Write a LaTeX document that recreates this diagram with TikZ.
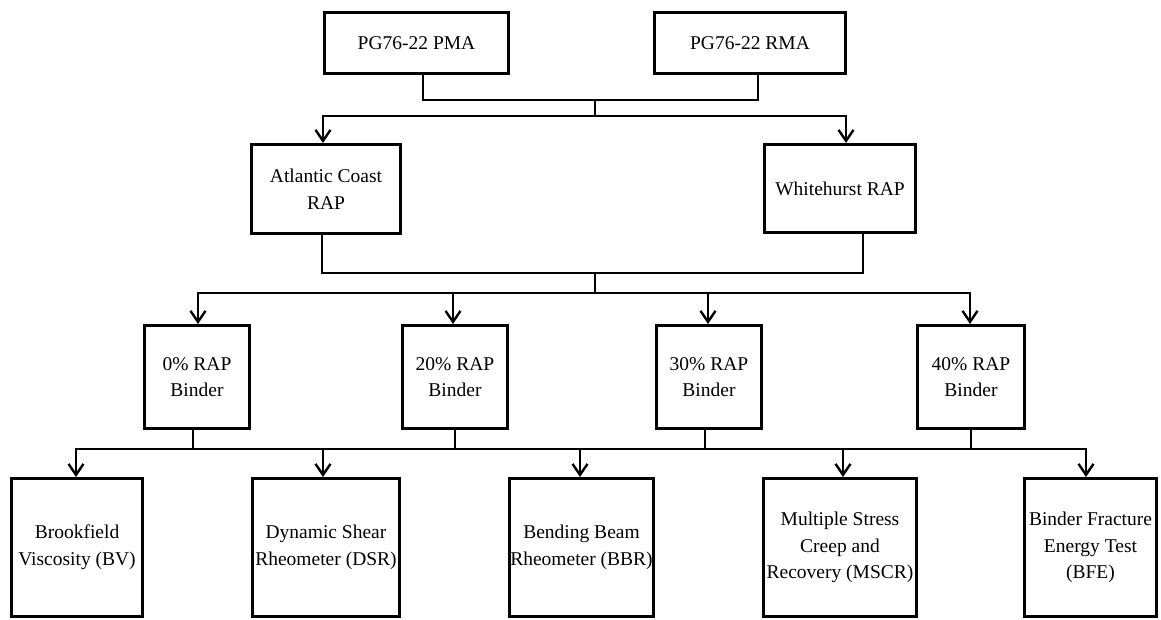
\documentclass[tikz,border=0pt]{standalone}
\usepackage{fontspec}
\setmainfont{LiberationSerif}[Extension=.ttf, UprightFont=*-Regular, BoldFont=*-Bold]
\usetikzlibrary{arrows.meta}
\begin{document}
\begin{tikzpicture}[x=1pt,y=-1pt,
  box/.style={draw, line width=3pt, align=center, inner sep=0pt,
    font=\fontsize{19.5}{26.7}\selectfont},
  conn/.style={line width=2pt},
  arr/.style={conn, -{Straight Barb[length=11pt,width=15pt,line width=2.4pt]}}]
\useasboundingbox[fill=white] (0,0) rectangle (1161,619);
% top row
\node[box, minimum width=184pt, minimum height=61pt] (pma) at (416.5,43) {PG76-22 PMA};
\node[box, minimum width=191pt, minimum height=61pt] (rma) at (750,43) {PG76-22 RMA};
% second row
\node[box, minimum width=149pt, minimum height=89pt] (atl) at (326,189) {Atlantic Coast\\RAP};
\node[box, minimum width=151pt, minimum height=88pt] (wh) at (840,188.5) {Whitehurst RAP};
% third row
\node[box, minimum width=105pt, minimum height=103pt] (r0) at (197,377) {0\% RAP\\Binder};
\node[box, minimum width=105pt, minimum height=103pt] (r20) at (455,377) {20\% RAP\\Binder};
\node[box, minimum width=105pt, minimum height=103pt] (r30) at (709,377) {30\% RAP\\Binder};
\node[box, minimum width=107pt, minimum height=103pt] (r40) at (971,377) {40\% RAP\\Binder};
% bottom row
\node[box, minimum width=131pt, minimum height=138pt] (bv) at (77,547.5) {Brookfield\\Viscosity (BV)};
\node[box, minimum width=147pt, minimum height=138pt] (dsr) at (326,547.5) {Dynamic Shear\\Rheometer (DSR)};
\node[box, minimum width=144pt, minimum height=138pt] (bbr) at (581.5,547.5) {Bending Beam\\Rheometer (BBR)};
\node[box, minimum width=153pt, minimum height=138pt] (mscr) at (840,547.5) {Multiple Stress\\Creep and\\Recovery (MSCR)};
\node[box, minimum width=132pt, minimum height=138pt] (bfe) at (1090.5,547.5) {Binder Fracture\\Energy Test\\(BFE)};
% top connectors
\coordinate (pmaout) at ([xshift=6.5pt]pma.south);
\coordinate (rmaout) at ([xshift=8pt]rma.south);
\coordinate (j1) at (595,100);
\coordinate (j2) at (595,116);
\draw[conn] (pmaout) |- (j1) -| (rmaout);
\draw[conn] (j1) -- (j2);
\coordinate (atlin) at ([xshift=-3pt]atl.north);
\coordinate (whin) at ([xshift=6pt]wh.north);
\draw[arr] (j2) -| (atlin);
\draw[arr] (j2) -| (whin);
% middle connectors
\coordinate (atlout) at ([xshift=-4pt]atl.south);
\coordinate (whout) at ([xshift=23pt]wh.south);
\coordinate (j3) at (595,273);
\coordinate (j4) at (595,293);
\draw[conn] (atlout) |- (j3) -| (whout);
\draw[conn] (j3) -- (j4);
\coordinate (r0in) at ([xshift=1pt]r0.north);
\coordinate (r20in) at ([xshift=-2pt]r20.north);
\coordinate (r30in) at ([xshift=-1pt]r30.north);
\coordinate (r40in) at ([xshift=-1pt]r40.north);
\draw[arr] (j4) -| (r0in);
\draw[arr] (j4) -| (r20in);
\draw[arr] (j4) -| (r30in);
\draw[arr] (j4) -| (r40in);
% lower connectors
\coordinate (j5) at (0,449);
\coordinate (r0out) at ([xshift=-4pt]r0.south);
\coordinate (r20out) at (r20.south);
\coordinate (r30out) at ([xshift=-4pt]r30.south);
\coordinate (r40out) at (r40.south);
\coordinate (bvin) at ([xshift=-1pt]bv.north);
\coordinate (dsrin) at ([xshift=-3pt]dsr.north);
\coordinate (bbrin) at ([xshift=-1.5pt]bbr.north);
\coordinate (mscrin) at ([xshift=3pt]mscr.north);
\coordinate (bfein) at ([xshift=-4.5pt]bfe.north);
\draw[conn] (r0out |- j5) -- (r40out |- j5);
\foreach \s in {r0out,r20out,r30out,r40out}
  \draw[conn] (\s) -- (\s |- j5);
\draw[arr] (r0out |- j5) -| (bvin);
\draw[arr] (r40out |- j5) -| (bfein);
\draw[arr] (dsrin |- j5) -- (dsrin);
\draw[arr] (bbrin |- j5) -- (bbrin);
\draw[arr] (mscrin |- j5) -- (mscrin);
\end{tikzpicture}
\end{document}
